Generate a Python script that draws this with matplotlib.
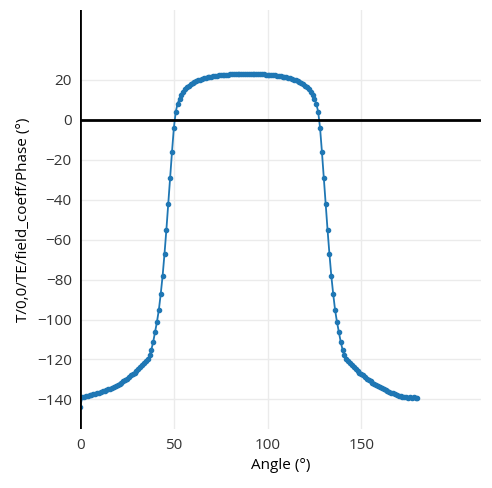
import matplotlib
matplotlib.use("Agg")
import matplotlib.pyplot as plt
import numpy as np

angle = list(range(0, 181))
left = [-144, -139, -139, -138.5, -138.5, -138, -138, -137.5, -137.5, -137,
        -137, -136.5, -136, -136, -135.5, -135, -135, -134.5, -134, -133.5,
        -133, -132.5, -132, -131, -130.5, -130, -129, -128, -127.5, -127,
        -126, -125, -124, -123, -122, -121, -120, -118, -115, -111,
        -106, -101, -95, -87, -78, -67, -55, -42, -29, -16,
        -4, 4, 8, 10.5, 12.5, 14, 15.2, 16.2, 17, 17.7,
        18.3, 18.8, 19.3, 19.7, 20, 20.4, 20.7, 21, 21.2, 21.4,
        21.6, 21.8, 22, 22.1, 22.2, 22.3, 22.4, 22.5, 22.6, 22.6,
        22.7, 22.7, 22.8, 22.8, 22.8, 22.9, 22.9, 22.9, 23, 23, 23]
right = [22.9, 22.9, 22.9, 22.8, 22.8, 22.8, 22.7, 22.7, 22.6, 22.6,
         22.5, 22.4, 22.3, 22.2, 22.1, 22, 21.8, 21.6, 21.4, 21.2,
         21, 20.7, 20.4, 20, 19.7, 19.3, 18.8, 18.3, 17.7, 17,
         16.2, 15.2, 14, 12.5, 10.5, 8, 4, -4, -16, -29,
         -42, -55, -67, -78, -87, -95, -101, -106, -111, -115,
         -118, -120, -121, -122, -123, -124, -125, -126, -127, -127.5,
         -128, -129, -130, -130.5, -131, -132, -132.5, -133, -133.5, -134,
         -134.5, -135, -135.5, -136, -136.5, -137, -137, -137.5, -138, -138.5,
         -138.5, -139, -139, -139, -139.5, -139, -139.5, -139, -139.5, -139.5]
phase = left + right

plt.rcParams['font.family'] = ['Open Sans', 'DejaVu Sans']
fig = plt.figure(figsize=(4.92, 4.88), dpi=100)
ax = fig.add_axes([0.163, 0.12, 0.815, 0.86])
ax.plot(angle, phase, '-o', color='#1f77b4', markersize=3, linewidth=1.3)
ax.set_xlim(0, 214)
ax.set_ylim(-155, 55)
ax.set_xticks([0, 50, 100, 150])
ax.set_yticks(list(range(-140, 21, 20)))
ax.grid(True, color='#ebebeb', linewidth=1)
ax.set_axisbelow(True)
for s in ax.spines.values():
    s.set_visible(False)
ax.axvline(0, color='black', linewidth=2)
ax.axhline(0, color='black', linewidth=2)
ax.tick_params(length=0, labelsize=11, colors='#333333', pad=6)
ax.set_xlabel('Angle (°)', fontsize=11)
ax.set_ylabel('T/0,0/TE/field_coeff/Phase (°)', fontsize=11)
fig.savefig('out.png', dpi=100)
